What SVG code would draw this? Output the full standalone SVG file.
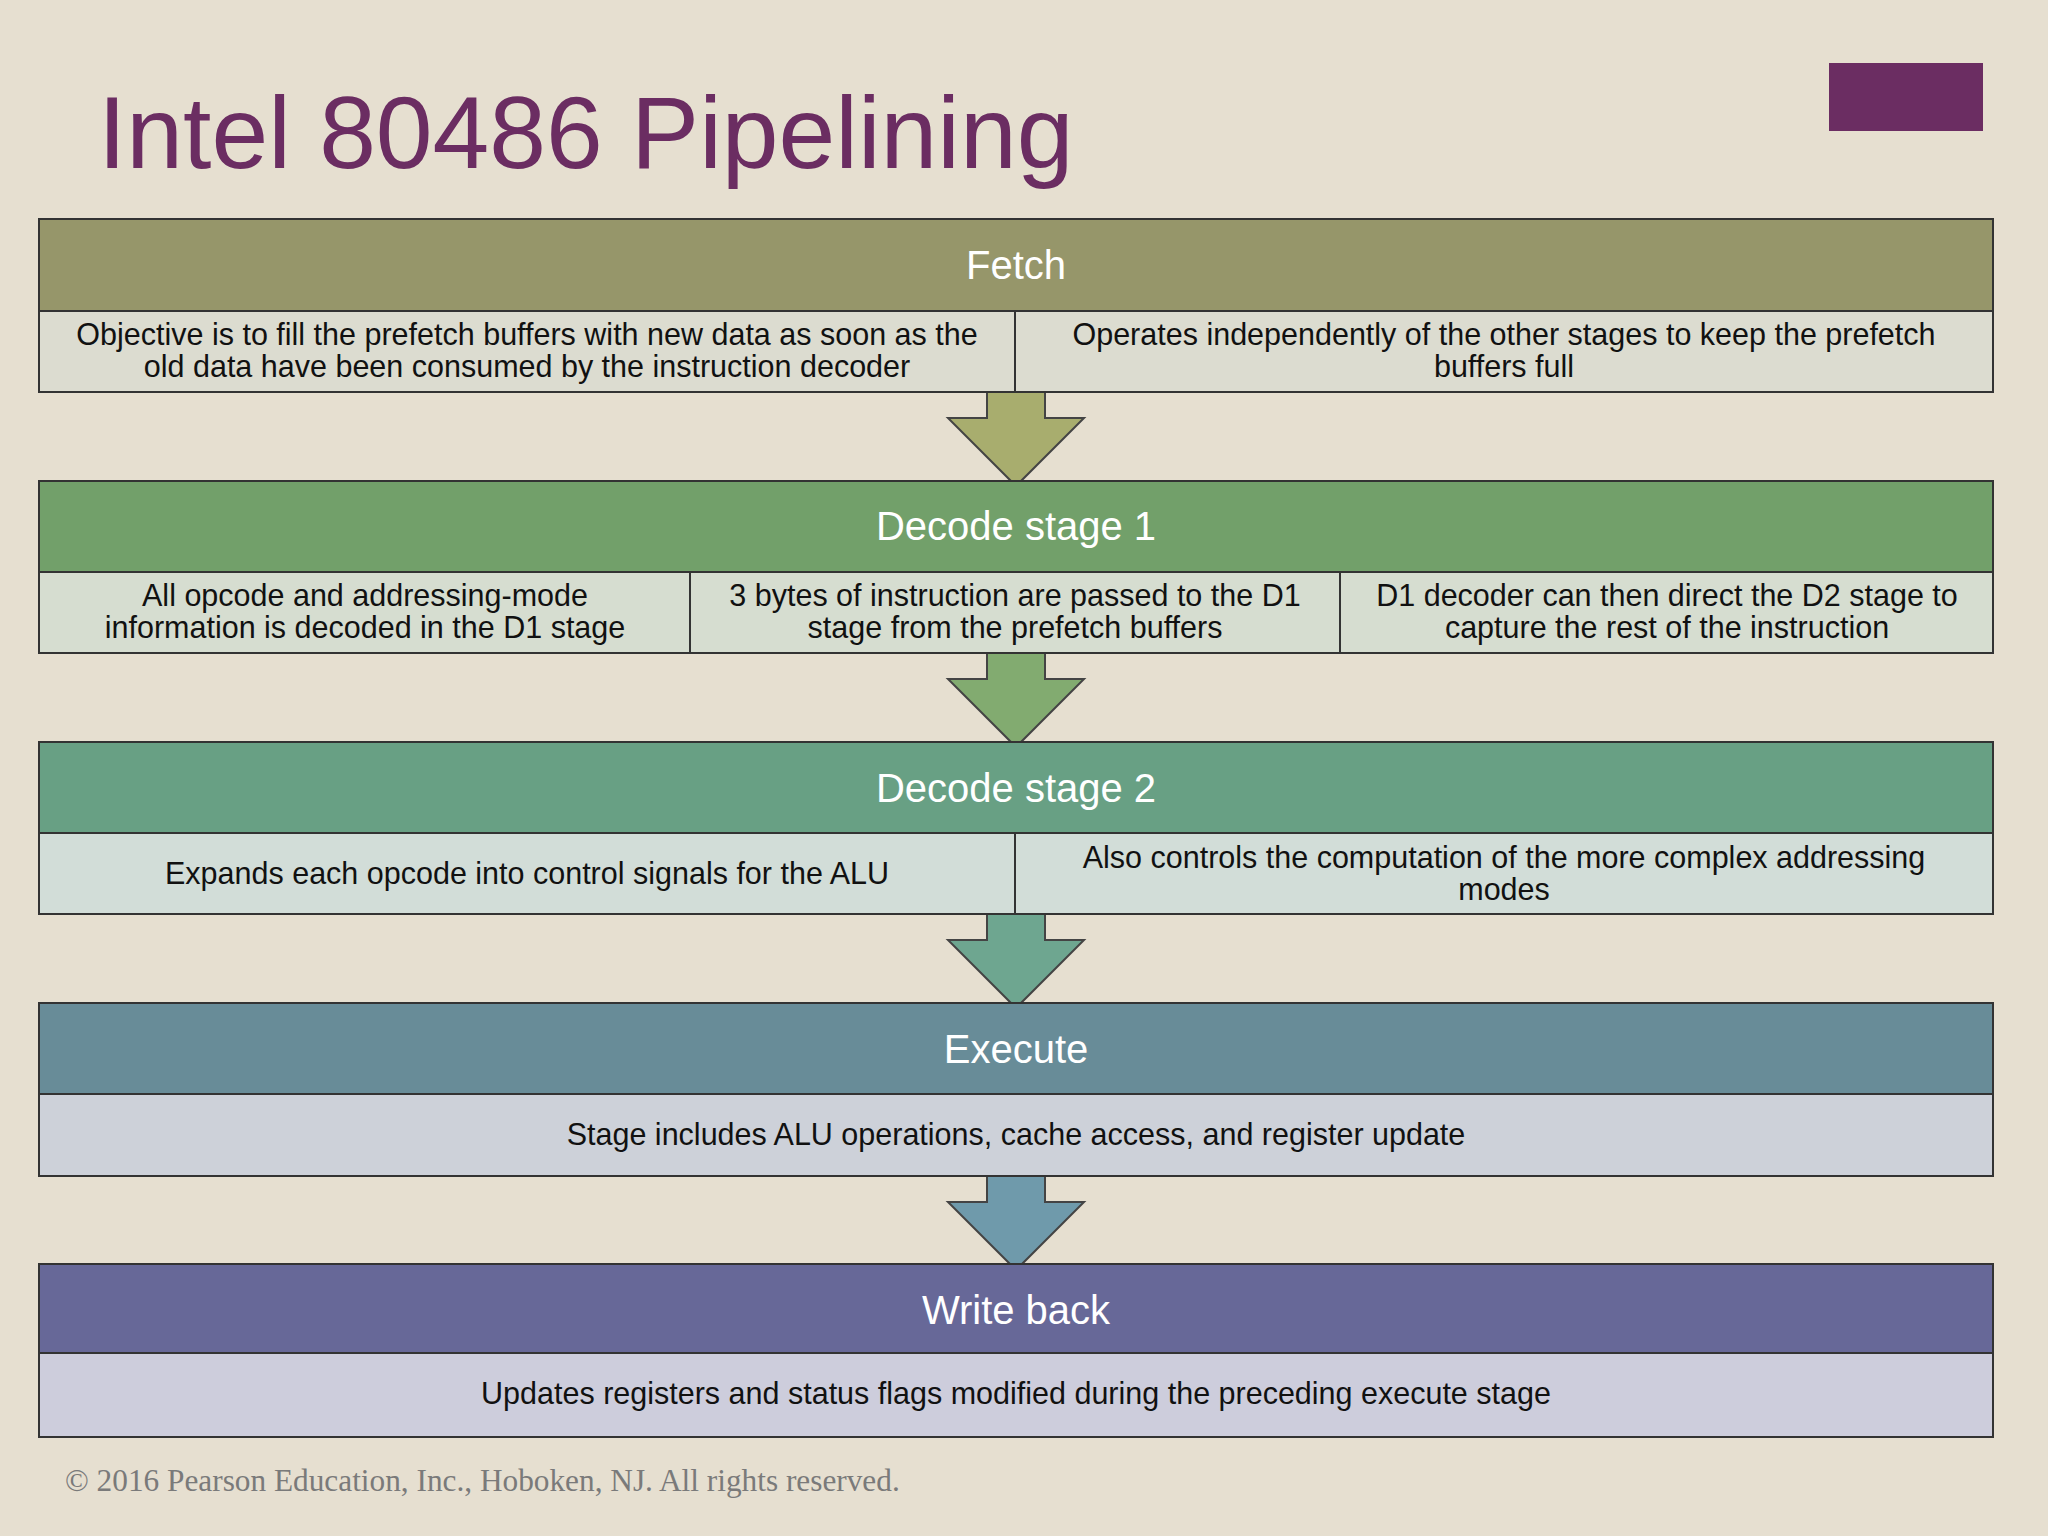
<svg xmlns="http://www.w3.org/2000/svg" width="2048" height="1536" viewBox="0 0 2048 1536">
<style>
.hd{font-family:"Liberation Sans",Arial,sans-serif;font-size:40px;fill:#fff;text-anchor:middle}
.sb{font-family:"Liberation Sans",Arial,sans-serif;font-size:30.5px;fill:#111;text-anchor:middle}
.bx{stroke:#333;stroke-width:2}
.ar{stroke:#444;stroke-width:2}
</style>
<defs>
<path id="arrow" d="M987,392 H1045 V418 H1084 L1016,486 L948,418 H987 Z"/>
</defs>
<rect width="2048" height="1536" fill="#e6dfd0"/>
<text x="98" y="168" font-family="Liberation Sans,Arial,sans-serif" font-size="102" fill="#6b2d62">Intel 80486 Pipelining</text>
<rect x="1829" y="63" width="154" height="68" fill="#6b2d62"/>
<g id="connectors">
<use href="#arrow" class="ar" fill="#a8ad6e"/>
<use href="#arrow" class="ar" fill="#82ab70" transform="translate(0,261)"/>
<use href="#arrow" class="ar" fill="#6ea690" transform="translate(0,522)"/>
<use href="#arrow" class="ar" fill="#6f9aab" transform="translate(0,784)"/>
</g>
<g id="fetch">
<rect class="bx" x="39" y="219" width="1954" height="92" fill="#96966a"/>
<text class="hd" x="1016" y="279">Fetch</text>
<rect class="bx" x="39" y="311" width="976" height="81" fill="#dcdcd0"/>
<rect class="bx" x="1015" y="311" width="978" height="81" fill="#dcdcd0"/>
<text class="sb" x="527" y="345">Objective is to fill the prefetch buffers with new data as soon as the</text>
<text class="sb" x="527" y="377">old data have been consumed by the instruction decoder</text>
<text class="sb" x="1504" y="345">Operates independently of the other stages to keep the prefetch</text>
<text class="sb" x="1504" y="377">buffers full</text>
</g>
<g id="decode1">
<rect class="bx" x="39" y="481" width="1954" height="91" fill="#72a06a"/>
<text class="hd" x="1016" y="540">Decode stage 1</text>
<rect class="bx" x="39" y="572" width="651" height="81" fill="#d6ddd0"/>
<rect class="bx" x="690" y="572" width="650" height="81" fill="#d6ddd0"/>
<rect class="bx" x="1340" y="572" width="653" height="81" fill="#d6ddd0"/>
<text class="sb" x="365" y="606">All opcode and addressing-mode</text>
<text class="sb" x="365" y="638">information is decoded in the D1 stage</text>
<text class="sb" x="1015" y="606">3 bytes of instruction are passed to the D1</text>
<text class="sb" x="1015" y="638">stage from the prefetch buffers</text>
<text class="sb" x="1667" y="606">D1 decoder can then direct the D2 stage to</text>
<text class="sb" x="1667" y="638">capture the rest of the instruction</text>
</g>
<g id="decode2">
<rect class="bx" x="39" y="742" width="1954" height="91" fill="#68a084"/>
<text class="hd" x="1016" y="802">Decode stage 2</text>
<rect class="bx" x="39" y="833" width="976" height="81" fill="#d2ddd8"/>
<rect class="bx" x="1015" y="833" width="978" height="81" fill="#d2ddd8"/>
<text class="sb" x="527" y="884">Expands each opcode into control signals for the ALU</text>
<text class="sb" x="1504" y="868">Also controls the computation of the more complex addressing</text>
<text class="sb" x="1504" y="900">modes</text>
</g>
<g id="execute">
<rect class="bx" x="39" y="1003" width="1954" height="91" fill="#688c98"/>
<text class="hd" x="1016" y="1063">Execute</text>
<rect class="bx" x="39" y="1094" width="1954" height="82" fill="#cdd1d9"/>
<text class="sb" x="1016" y="1145">Stage includes ALU operations, cache access, and register update</text>
</g>
<g id="writeback">
<rect class="bx" x="39" y="1264" width="1954" height="89" fill="#676898"/>
<text class="hd" x="1016" y="1324">Write back</text>
<rect class="bx" x="39" y="1353" width="1954" height="84" fill="#cdcddc"/>
<text class="sb" x="1016" y="1404">Updates registers and status flags modified during the preceding execute stage</text>
</g>
<text x="65" y="1491" font-family="Liberation Serif,Times New Roman,serif" font-size="31.3" fill="#7a7a7a">© 2016 Pearson Education, Inc., Hoboken, NJ. All rights reserved.</text>
</svg>
